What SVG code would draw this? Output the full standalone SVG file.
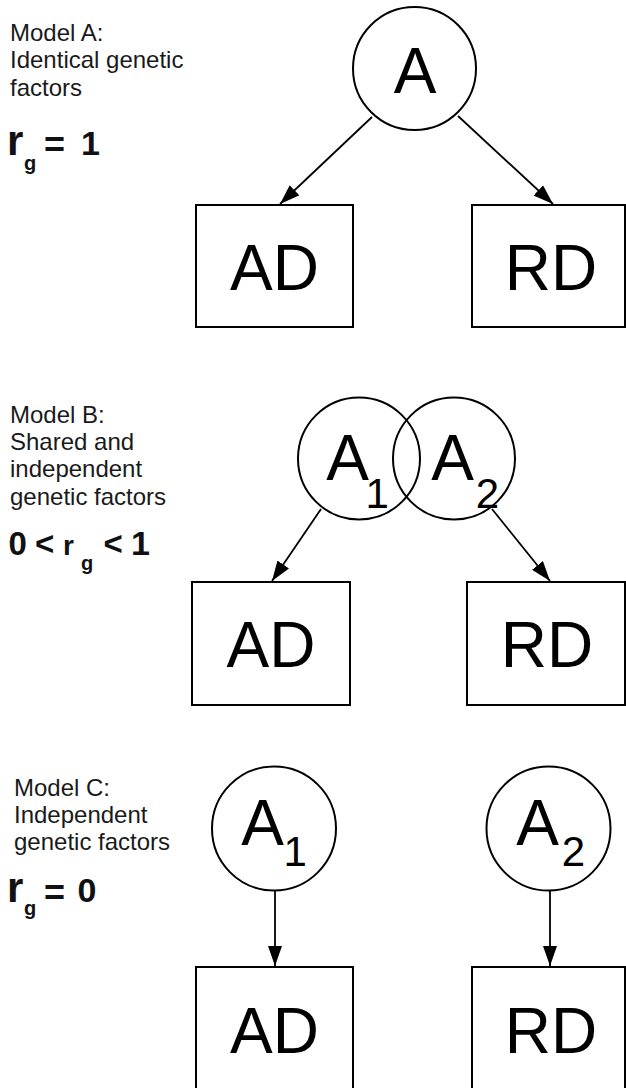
<svg xmlns="http://www.w3.org/2000/svg" width="626" height="1088" viewBox="0 0 626 1088">
<style>
.lbl{font-family:"Liberation Sans",Arial,sans-serif;font-size:24px;fill:#1a1a1a}
.eq{font-family:"Liberation Sans",Arial,sans-serif;font-weight:bold;fill:#111}
.big{font-family:"Liberation Sans",Arial,sans-serif;font-size:64px;fill:#000}
.sub{font-family:"Liberation Sans",Arial,sans-serif;font-size:42px;fill:#000}
.node{fill:#fff;stroke:#000;stroke-width:2}
.edge{stroke:#000;stroke-width:1.8;fill:none;marker-end:url(#ah)}
</style>
<defs>
<marker id="ah" markerUnits="userSpaceOnUse" markerWidth="20" markerHeight="14" refX="20" refY="7" orient="auto">
<path d="M0,0 L20,7 L0,14 z" fill="#000"/>
</marker>
</defs>
<rect width="626" height="1088" fill="#fff"/>

<!-- Model A labels -->
<g id="labelA">
<text class="lbl" x="10" y="41">Model A:</text>
<text class="lbl" x="10" y="68">Identical genetic</text>
<text class="lbl" x="10" y="96">factors</text>
<text class="eq" x="7" y="155" font-size="42">r</text>
<text class="eq" x="24" y="170" font-size="20">g</text>
<text class="eq" x="44" y="157" font-size="36">=</text>
<text class="eq" x="81" y="155" font-size="34">1</text>
</g>

<!-- Model B labels -->
<g id="labelB">
<text class="lbl" x="10" y="423">Model B:</text>
<text class="lbl" x="10" y="450">Shared and</text>
<text class="lbl" x="10" y="477">independent</text>
<text class="lbl" x="10" y="505">genetic factors</text>
<text class="eq" x="8.5" y="555" font-size="33">0</text>
<text class="eq" x="35" y="555" font-size="33">&lt;</text>
<text class="eq" x="63" y="555" font-size="28">r</text>
<text class="eq" x="81" y="570" font-size="20">g</text>
<text class="eq" x="103.5" y="555" font-size="33">&lt;</text>
<text class="eq" x="131" y="555" font-size="34">1</text>
</g>

<!-- Model C labels -->
<g id="labelC">
<text class="lbl" x="14" y="796">Model C:</text>
<text class="lbl" x="14" y="823">Independent</text>
<text class="lbl" x="14" y="850">genetic factors</text>
<text class="eq" x="7" y="902" font-size="42">r</text>
<text class="eq" x="24" y="915" font-size="20">g</text>
<text class="eq" x="44" y="905" font-size="36">=</text>
<text class="eq" x="77.6" y="902" font-size="34">0</text>
</g>

<!-- Connectors -->
<g id="connectors">
<line class="edge" x1="372" y1="117" x2="280" y2="204"/>
<line class="edge" x1="458" y1="116" x2="553" y2="204"/>
<line class="edge" x1="321" y1="509" x2="272" y2="581"/>
<line class="edge" x1="492" y1="509" x2="550" y2="581"/>
<line class="edge" x1="275" y1="890" x2="275" y2="966"/>
<line class="edge" x1="550" y1="890" x2="550" y2="966"/>
</g>

<!-- Model A nodes -->
<g id="nodeA">
<circle class="node" cx="414.5" cy="68.5" r="61.5"/>
<text class="big" x="415" y="93" text-anchor="middle">A</text>
</g>
<g id="nodeA_AD">
<rect class="node" x="196" y="205" width="157" height="122"/>
<text class="big" x="274.5" y="290" text-anchor="middle">AD</text>
</g>
<g id="nodeA_RD">
<rect class="node" x="472" y="205" width="153" height="122"/>
<text class="big" x="551" y="290" text-anchor="middle">RD</text>
</g>

<!-- Model B nodes -->
<g id="nodeB_A1">
<circle cx="359" cy="458.5" r="61" fill="none" stroke="#000" stroke-width="2"/>
</g>
<g id="nodeB_A2">
<circle cx="454" cy="458.5" r="61" fill="none" stroke="#000" stroke-width="2"/>
</g>
<g id="nodeB_text">
<text class="big" x="347.5" y="480" text-anchor="middle">A</text>
<text class="sub" x="365.4" y="508">1</text>
<text class="big" x="452.5" y="480" text-anchor="middle">A</text>
<text class="sub" x="475.7" y="508">2</text>
</g>
<g id="nodeB_AD">
<rect class="node" x="192" y="582" width="158" height="123"/>
<text class="big" x="271" y="667" text-anchor="middle">AD</text>
</g>
<g id="nodeB_RD">
<rect class="node" x="467" y="582" width="158" height="123"/>
<text class="big" x="547" y="667" text-anchor="middle">RD</text>
</g>

<!-- Model C nodes -->
<g id="nodeC_A1">
<circle class="node" cx="274" cy="828.5" r="62"/>
<text class="big" x="262.5" y="845" text-anchor="middle">A</text>
<text class="sub" x="283.4" y="866">1</text>
</g>
<g id="nodeC_A2">
<circle class="node" cx="548.5" cy="828.5" r="62"/>
<text class="big" x="537.5" y="845" text-anchor="middle">A</text>
<text class="sub" x="561.7" y="866">2</text>
</g>
<g id="nodeC_AD">
<rect class="node" x="196" y="967" width="157" height="135"/>
<text class="big" x="274.5" y="1053" text-anchor="middle">AD</text>
</g>
<g id="nodeC_RD">
<rect class="node" x="472" y="967" width="153" height="135"/>
<text class="big" x="551" y="1053" text-anchor="middle">RD</text>
</g>
</svg>
